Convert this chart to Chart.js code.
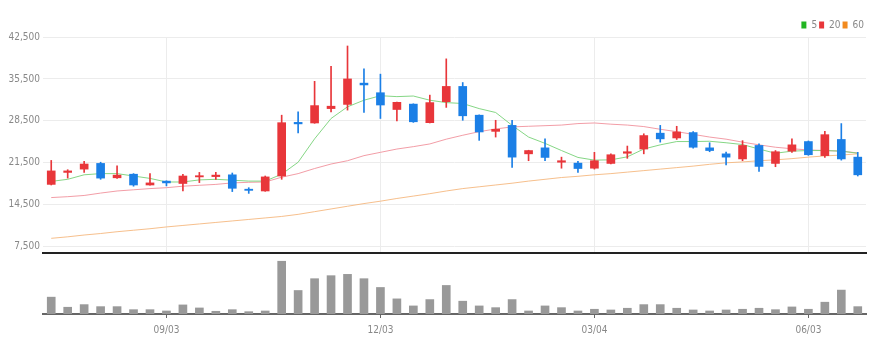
<!DOCTYPE html>
<html>
<head>
<meta charset="utf-8">
<script src="https://cdn.jsdelivr.net/npm/chart.js@4.4.1/dist/chart.umd.min.js"></script>
<style>
  html, body { margin: 0; padding: 0; background: #fff; }
  #wrap { position: relative; width: 884px; height: 352px; }
  #price { position: absolute; left: 0; top: 0; }
  #volume { position: absolute; left: 0; top: 254px; }
</style>
</head>
<body>
<div id="wrap">
  <canvas id="price" width="884" height="262"></canvas>
  <canvas id="volume" width="884" height="98"></canvas>
</div>
<script>
// weekly candles, 2018-07-16 .. 2019-06-24
const labels = ['07/16','07/23','07/30','08/06','08/13','08/20','08/27','09/03','09/10','09/17',
  '09/24','10/01','10/08','10/15','10/22','10/29','11/05','11/12','11/19','11/26',
  '12/03','12/10','12/17','12/24','12/31','01/07','01/14','01/21','01/28','02/04',
  '02/11','02/18','02/25','03/04','03/11','03/18','03/25','04/01','04/08','04/15',
  '04/22','04/29','05/06','05/13','05/20','05/27','06/03','06/10','06/17','06/24'];
const tickLabels = ['09/03', '12/03', '03/04', '06/03'];
const yTicks = [7500, 14500, 21500, 28500, 35500, 42500];

const opens = [17900, 19900, 20450, 21400, 19000, 19600, 17800, 18450, 18050, 19150,
  19200, 19500, 17100, 16800, 19300, 28250, 28150, 30550, 31250, 34800,
  33200, 30400, 31300, 28200, 31700, 34250, 29450, 26750, 27750, 23000,
  24000, 21600, 21450, 20600, 21400, 23100, 23800, 26450, 25650, 26550,
  24000, 23000, 22150, 24400, 21400, 23450, 25050, 22700, 25400, 22450];
const closes = [20150, 20150, 21300, 18950, 19450, 17800, 18150, 18150, 19300, 19350,
  19450, 17250, 16900, 19150, 28200, 28000, 31050, 30950, 35500, 34500,
  31150, 31600, 28350, 31550, 34250, 29350, 26650, 27100, 22450, 23550,
  22400, 21850, 20550, 21850, 22850, 23350, 26050, 25500, 26650, 24100,
  23550, 22450, 24400, 20900, 23350, 24500, 22850, 26200, 22150, 19500];
const highs = [21900, 20350, 21750, 21600, 21000, 19700, 19700, 18500, 19600, 19900,
  19900, 19800, 17350, 19300, 29450, 30000, 35100, 37600, 41000, 37200,
  36300, 31650, 31350, 32800, 38850, 34900, 29500, 28600, 28600, 23600,
  25500, 22450, 21750, 23250, 23000, 24300, 26350, 27750, 27600, 26700,
  24850, 23300, 25200, 24650, 23550, 25500, 25150, 26750, 28050, 23250];
const lows = [17800, 18950, 19900, 18750, 18900, 17600, 17750, 17650, 16800, 18200,
  18750, 16700, 16400, 16750, 18750, 26500, 28100, 30000, 30300, 29900,
  28900, 28500, 28250, 28150, 30750, 28600, 25250, 25800, 20750, 21850,
  21850, 20600, 19900, 20450, 21300, 22250, 23000, 24950, 25400, 23950,
  23350, 21150, 21850, 20050, 20850, 23250, 22750, 22400, 21950, 19300];
const volumes = [1670, 670, 930, 730, 730, 430, 430, 300, 900, 600,
  270, 430, 230, 300, 5230, 2330, 3500, 3800, 3930, 3500,
  2630, 1500, 800, 1430, 2830, 1270, 800, 630, 1430, 300,
  800, 630, 300, 470, 400, 570, 930, 930, 570, 400,
  300, 400, 470, 570, 430, 700, 470, 1170, 2370, 730];

// moving averages as drawn
const ma5 = [18400, 18750, 19500, 19700, 19700, 19300, 18900, 18300, 18300, 18650,
  18750, 18600, 18450, 18450, 19600, 21600, 25500, 28900, 30850, 31950,
  32700, 32550, 32650, 31950, 31550, 31400, 30550, 29900, 27750, 25800,
  24750, 23550, 22400, 21950, 22000, 22500, 23800, 24500, 25050, 25050,
  25100, 24850, 24550, 23800, 23100, 23450, 23550, 23550, 23450, 23100];
const ma20 = [15700, 15850, 16050, 16450, 16800, 17000, 17200, 17350, 17600, 17750,
  17900, 18150, 18250, 18300, 19100, 19700, 20550, 21300, 21850, 22700,
  23250, 23800, 24200, 24650, 25450, 26100, 26700, 27150, 27500, 27600,
  27700, 27800, 28050, 28150, 27950, 27800, 27550, 27100, 26700, 26250,
  25800, 25450, 24950, 24500, 24100, 23850, 23650, 23550, 23450, 23150];
const ma60 = [8900, 9150, 9450, 9700, 10000, 10250, 10500, 10800, 11050, 11300,
  11550, 11800, 12050, 12300, 12550, 12900, 13350, 13800, 14250, 14700,
  15100, 15550, 15950, 16350, 16800, 17200, 17500, 17800, 18100, 18450,
  18750, 19050, 19250, 19500, 19700, 19950, 20200, 20450, 20700, 20950,
  21250, 21500, 21650, 21850, 22000, 22200, 22450, 22650, 22800, 23000];

const UP = '#e8363a';
const DOWN = '#1b7fe6';
const candleColors = opens.map((o, i) => closes[i] >= o ? UP : DOWN);

const tickFont = {
  family: "'Liberation Sans Narrow', 'DejaVu Sans Condensed', Roboto, sans-serif",
  size: 10
};

const keepQuarterTicks = scale => {
  scale.ticks = scale.ticks.filter(t => tickLabels.includes(labels[t.value]));
};

// tweak the space under the legend
const legendMargin = {
  id: 'legendMargin',
  beforeInit(chart) {
    const fit = chart.legend.fit;
    chart.legend.fit = function () {
      fit.call(this);
      this.height -= 3;
    };
  }
};

const maLine = (label, data, color) => ({
  type: 'line',
  label: label,
  data: data,
  borderColor: color,
  borderWidth: 1,
  pointRadius: 0,
  tension: 0,
  order: 2
});

new Chart(document.getElementById('price'), {
  type: 'bar',
  data: {
    labels: labels,
    datasets: [
      maLine('5', ma5, 'rgba(120, 210, 120, 0.9)'),
      maLine('20', ma20, 'rgba(240, 140, 150, 0.85)'),
      maLine('60', ma60, 'rgba(245, 180, 120, 0.85)'),
      {
        label: 'wick',
        data: lows.map((l, i) => [l, highs[i]]),
        backgroundColor: candleColors,
        barThickness: 1,
        grouped: false,
        order: 1
      },
      {
        label: 'body',
        data: opens.map((o, i) => [o, closes[i]]),
        backgroundColor: candleColors,
        barThickness: 8,
        grouped: false,
        order: 0
      }
    ]
  },
  options: {
    responsive: false,
    animation: false,
    layout: { padding: { top: 18, right: 18, bottom: 2, left: 0 } },
    plugins: {
      tooltip: { enabled: false },
      legend: {
        position: 'top',
        align: 'end',
        labels: {
          boxWidth: 5,
          boxHeight: 7,
          padding: 2,
          color: '#888',
          font: tickFont,
          generateLabels: chart => {
            const legendColors = ['#22b522', '#e8363a', '#f28a1e'];
            return Chart.defaults.plugins.legend.labels.generateLabels(chart)
              .filter(item => item.datasetIndex < 3)
              .map(item => Object.assign(item, {
                fillStyle: legendColors[item.datasetIndex],
                strokeStyle: legendColors[item.datasetIndex],
                lineWidth: 0
              }));
          }
        }
      }
    },
    scales: {
      x: {
        offset: true,
        afterBuildTicks: keepQuarterTicks,
        afterFit: scale => { scale.height = 1; },
        ticks: { display: false, autoSkip: false },
        grid: { offset: false, color: '#ececec', drawTicks: false },
        border: { display: true, color: '#222', width: 2 }
      },
      y: {
        min: 6450,
        max: 42500,
        afterBuildTicks: scale => { scale.ticks = yTicks.map(v => ({ value: v })); },
        afterFit: scale => { scale.width = 43; },
        ticks: {
          color: '#888',
          font: tickFont,
          padding: 3,
          callback: v => v.toLocaleString('en-US')
        },
        grid: { color: '#ececec', drawTicks: false },
        border: { display: false }
      }
    }
  },
  plugins: [legendMargin]
});

new Chart(document.getElementById('volume'), {
  type: 'bar',
  data: {
    labels: labels,
    datasets: [{
      label: 'volume',
      data: volumes,
      backgroundColor: '#999',
      barThickness: 8
    }]
  },
  options: {
    responsive: false,
    animation: false,
    layout: { padding: { top: 2, right: 18, bottom: 10, left: 43 } },
    plugins: { legend: { display: false }, tooltip: { enabled: false } },
    scales: {
      x: {
        afterBuildTicks: keepQuarterTicks,
        ticks: { autoSkip: false, maxRotation: 0, color: '#888', font: tickFont, padding: 6 },
        grid: { offset: false, drawOnChartArea: false, tickLength: 4, tickColor: '#666' },
        border: { color: '#666', width: 2 }
      },
      y: { display: false, min: 0, max: 5750 }
    }
  }
});
</script>
</body>
</html>
